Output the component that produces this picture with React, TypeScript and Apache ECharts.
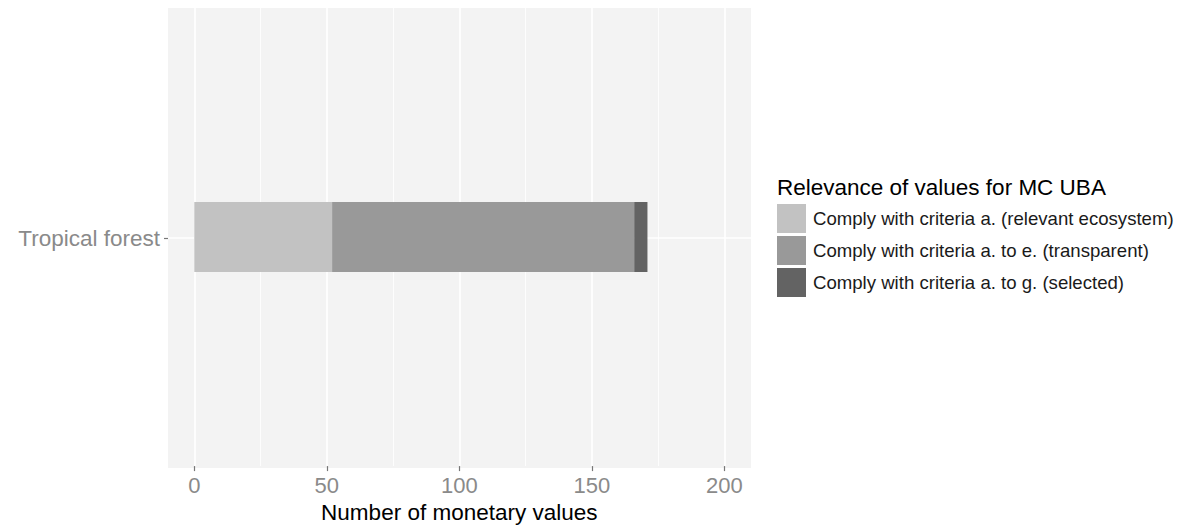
import React, { useEffect, useRef } from "react";
import * as echarts from "echarts";

const categories = ["Tropical forest"];
const seriesNames = [
  "Comply with criteria a. (relevant ecosystem)",
  "Comply with criteria a. to e. (transparent)",
  "Comply with criteria a. to g. (selected)",
];
const relevantEcosystem = [52];
const transparentValues = [114];
const selectedValues = [5];
const seriesColors = ["#C2C2C2", "#999999", "#636363"];
const xTicks = { min: 0, max: 200, interval: 50 };
const legendTitle = "Relevance of values for MC UBA";
const xAxisTitle = "Number of monetary values";

const FONT = "Liberation Sans, Arial, Helvetica, sans-serif";

export default function App() {
  const ref = useRef<HTMLDivElement>(null);
  useEffect(() => {
    if (!ref.current) return;
    const chart = echarts.init(ref.current, null, { renderer: "svg" });
    const values = [relevantEcosystem, transparentValues, selectedValues];
    chart.setOption({
      animation: false,
      backgroundColor: "#ffffff",
      textStyle: { fontFamily: FONT },
      title: {
        text: legendTitle,
        left: 777,
        top: 176,
        padding: 0,
        textStyle: { fontFamily: FONT, fontSize: 22.5, fontWeight: "normal", color: "#000" },
      },
      legend: {
        orient: "vertical",
        left: 777,
        top: 204,
        padding: 0,
        itemWidth: 29,
        itemHeight: 29,
        itemGap: 3,
        icon: "rect",
        selectedMode: false,
        data: seriesNames,
        textStyle: { fontFamily: FONT, fontSize: 18.6, color: "#1a1a1a", padding: [0, 0, 0, 2] },
      },
      grid: [
        { left: 168, top: 8, width: 583, height: 460, show: true, backgroundColor: "#F3F3F3", borderWidth: 0 },
        { left: 194.3, top: 8, width: 530, height: 460, show: false },
      ],
      xAxis: [
        { gridIndex: 0, type: "value", min: 0, max: 1, show: false },
        {
          gridIndex: 1,
          type: "value",
          min: xTicks.min,
          max: xTicks.max,
          interval: xTicks.interval,
          axisLine: { show: false },
          axisTick: { show: true, length: 5, lineStyle: { color: "#777", width: 1.2 } },
          axisLabel: { fontFamily: FONT, fontSize: 22, color: "#8a8a8a", margin: 8 },
          splitLine: { show: true, lineStyle: { color: "#ffffff", width: 1.6 } },
          minorSplitLine: { show: true, lineStyle: { color: "#ffffff", width: 0.8 } },
          minorTick: { show: false, splitNumber: 2 },
          name: xAxisTitle,
          nameLocation: "middle",
          nameGap: 33,
          nameTextStyle: { fontFamily: FONT, fontSize: 22.5, color: "#000", verticalAlign: "top" },
        },
      ],
      yAxis: [
        {
          gridIndex: 0,
          type: "value",
          min: 0,
          max: 2,
          interval: 1,
          axisLabel: { show: false },
          axisLine: { show: false },
          axisTick: { show: false },
          splitLine: { show: true, lineStyle: { color: ["rgba(0,0,0,0)", "#ffffff", "rgba(0,0,0,0)"], width: 1.6 } },
        },
        {
          gridIndex: 1,
          type: "category",
          data: categories,
          show: false,
        },
        {
          gridIndex: 0,
          type: "category",
          data: categories,
          position: "left",
          axisLine: { show: false },
          axisTick: { show: true, alignWithLabel: true, length: 4, lineStyle: { color: "#777", width: 1.2 } },
          axisLabel: { fontFamily: FONT, fontSize: 22.5, color: "#8a8a8a", margin: 8 },
          splitLine: { show: false },
        },
      ],
      series: seriesNames.map((name, i) => ({
        name,
        type: "bar",
        stack: "total",
        xAxisIndex: 1,
        yAxisIndex: 1,
        barWidth: 70,
        itemStyle: { color: seriesColors[i] },
        data: values[i],
      })),
    });
    return () => chart.dispose();
  }, []);
  return <div ref={ref} style={{ position: "fixed", left: 0, top: 0, width: 1183, height: 529 }} />;
}
